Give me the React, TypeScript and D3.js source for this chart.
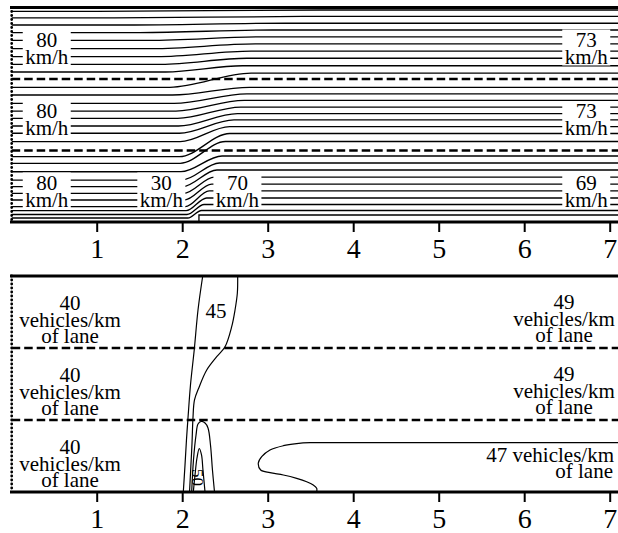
import React from "react";
import * as d3 from "d3";

// ---------- data ----------
const tickValues = [1, 2, 3, 4, 5, 6, 7];
const laneDividers = [1, 2];

// streamlines (top panel): lane units (0 = bottom edge, 3 = top edge), x in km
const streamLeft = [
  2.945, 2.855, 2.755, 2.65, 2.54, 2.425, 2.312, 2.205, 2.098,
  1.884, 1.776, 1.66, 1.552, 1.45, 1.343, 1.241, 1.123,
  0.913, 0.821, 0.703, 0.587, 0.494, 0.401, 0.308, 0.214, 0.158, 0.105, 0.056,
];
const streamRight = [
  2.965, 2.875, 2.78, 2.685, 2.59, 2.49, 2.39, 2.29, 2.185, 2.082,
  1.884, 1.793, 1.702, 1.608, 1.517, 1.427, 1.333, 1.238, 1.126,
  0.923, 0.825, 0.727, 0.629, 0.531, 0.434, 0.336, 0.245, 0.161,
];
const streamStart = [
  1.0, 1.2, 1.35, 1.5, 1.6, 1.65, 1.7, 1.75, 1.8,
  1.85, 1.88, 1.9, 1.92, 1.94, 1.95, 1.96, 1.97,
  1.96, 1.97, 1.98, 1.99, 2.0, 2.01, 2.02, 2.03, 2.04, 2.05, 2.06,
];
const streamEnd = [
  3.6, 3.4, 3.2, 3.05, 2.95, 2.85, 2.8, 2.75, 2.7,
  2.8, 2.78, 2.75, 2.72, 2.68, 2.64, 2.6, 2.55,
  2.55, 2.5, 2.46, 2.43, 2.4, 2.37, 2.34, 2.31, 2.28, 2.25, 2.22,
];
const obstacleLine: [number, number][] = [[2.19, 0], [2.19, 0.098], [7.2, 0.098]];

// speed labels (top panel)
const speedLabels = [
  { km: 0.41, top: "80", lane: 3 },
  { km: 0.41, top: "80", lane: 2 },
  { km: 0.41, top: "80", lane: 1 },
  { km: 1.75, top: "30", lane: 1 },
  { km: 2.64, top: "70", lane: 1 },
  { km: 6.72, top: "73", lane: 3 },
  { km: 6.72, top: "73", lane: 2 },
  { km: 6.72, top: "69", lane: 1 },
];

// density contours (bottom panel)
const contour45Left: [number, number][] = [
  [2.234, 3], [2.179, 2.528], [2.136, 1.986], [2.091, 1.486], [2.062, 1.028],
  [2.044, 0.722], [2.027, 0.375], [2.007, 0],
];
const contour45Right: [number, number][] = [
  [2.643, 3], [2.639, 2.76], [2.612, 2.528], [2.573, 2.296], [2.495, 2.018],
  [2.398, 1.879], [2.281, 1.694], [2.194, 1.463], [2.138, 1.278], [2.12, 1.024],
  [2.109, 0.681], [2.095, 0.351], [2.08, 0],
];
const contour50: [number, number][] = [
  [2.105, 0], [2.126, 0.444], [2.156, 0.792], [2.179, 0.944], [2.214, 0.979],
  [2.261, 0.958], [2.296, 0.889], [2.325, 0.653], [2.348, 0.306], [2.372, 0],
];
const contour55: [number, number][] = [
  [2.124, 0], [2.144, 0.236], [2.167, 0.472], [2.194, 0.604], [2.22, 0.514],
  [2.237, 0.306], [2.261, 0],
];
const contour47: [number, number][] = [
  [7.2, 0.685], [3.957, 0.685], [3.489, 0.685], [3.333, 0.672], [3.177, 0.643],
  [3.021, 0.583], [2.924, 0.49], [2.884, 0.399], [2.912, 0.306], [3.021, 0.268],
  [3.177, 0.236], [3.333, 0.19], [3.45, 0.143], [3.527, 0.097], [3.567, 0.051], [3.567, 0],
];

// ---------- component ----------
const W = 618;
const H = 533;
const FONT = '"Liberation Serif", "DejaVu Serif", serif';

export default function App() {
  const x = d3.scaleLinear().domain([0, 7]).range([11.7, 610.2]);
  const yTop = d3.scaleLinear().domain([0, 3]).range([222, 7.5]);
  const yBot = d3.scaleLinear().domain([0, 3]).range([492, 276]);
  const xMax = x.invert(W);

  const streamGen = d3
    .line<[number, number]>()
    .x((d) => x(d[0]))
    .y((d) => yTop(d[1]))
    .curve(d3.curveMonotoneX);
  const linGen = d3
    .line<[number, number]>()
    .x((d) => x(Math.min(d[0], xMax)))
    .y((d) => yTop(d[1]));
  const contGen = d3
    .line<[number, number]>()
    .x((d) => x(Math.min(d[0], xMax)))
    .y((d) => yBot(d[1]))
    .curve(d3.curveCatmullRom.alpha(0.5));

  const streams = streamLeft.map((yl, i) => {
    const pts: [number, number][] = [
      [0, yl],
      [streamStart[i], yl],
      [streamEnd[i], streamRight[i]],
      [xMax, streamRight[i]],
    ];
    return streamGen(pts) as string;
  });

  const topLabelY = (lane: number) => yTop(lane) + 39;
  const bottomLeftLabels = [3, 2, 1];
  const txt = { fontFamily: FONT } as React.CSSProperties;

  return (
    <svg
      width={W}
      height={H}
      style={{ position: "absolute", left: 0, top: 0, background: "#fff", fontFamily: FONT }}
    >
      <rect x={0} y={0} width={W} height={H} fill="#fff" />
      {/* ===== TOP PANEL ===== */}
      <g fill="none" stroke="#000" strokeWidth={1.3}>
        {streams.map((d, i) => (
          <path key={i} d={d} />
        ))}
        <path d={linGen(obstacleLine) as string} />
      </g>
      {laneDividers.map((l) => (
        <line
          key={"td" + l}
          x1={x(0)}
          x2={W}
          y1={yTop(l)}
          y2={yTop(l)}
          stroke="#000"
          strokeWidth={2.6}
          strokeDasharray="8.5,4"
        />
      ))}
      {speedLabels.map((s, i) => {
        const cx = x(s.km);
        const b1 = topLabelY(s.lane);
        const b2 = b1 + 17;
        return (
          <g key={"sl" + i}>
            <rect x={cx - 24} y={b1 - 17} width={48} height={36} fill="#fff" />
            <text x={cx} y={b1} textAnchor="middle" fontSize={21} style={txt}>
              {s.top}
            </text>
            <text x={cx} y={b2} textAnchor="middle" fontSize={21} style={txt}>
              km/h
            </text>
          </g>
        );
      })}
      <line x1={10} x2={W} y1={yTop(3)} y2={yTop(3)} stroke="#000" strokeWidth={2.8} />
      <line x1={10} x2={W} y1={yTop(0)} y2={yTop(0)} stroke="#000" strokeWidth={3} />
      <line
        x1={x(0)}
        x2={x(0)}
        y1={yTop(3)}
        y2={yTop(0)}
        stroke="#000"
        strokeWidth={2.8}
        strokeLinecap="round"
        strokeDasharray="0,4"
      />
      {tickValues.map((t) => (
        <g key={"tt" + t}>
          <line x1={x(t)} x2={x(t)} y1={yTop(0)} y2={yTop(0) + 10} stroke="#000" strokeWidth={2} />
          <text x={x(t)} y={258} textAnchor="middle" fontSize={28} style={txt}>
            {t}
          </text>
        </g>
      ))}

      {/* ===== BOTTOM PANEL ===== */}
      <g fill="none" stroke="#000" strokeWidth={1.2}>
        <path d={contGen(contour45Left) as string} />
        <path d={contGen(contour45Right) as string} />
        <path d={contGen(contour50) as string} />
        <path d={contGen(contour55) as string} />
        <path d={contGen(contour47) as string} />
      </g>
      <text x={x(2.39)} y={yBot(2.42)} textAnchor="middle" fontSize={21} style={txt}>
        45
      </text>
      <text
        x={0}
        y={0}
        textAnchor="middle"
        fontSize={17}
        style={txt}
        transform={`translate(${x(2.175)},${yBot(0.2)}) rotate(90)`}
        dy={6}
      >
        50
      </text>
      {laneDividers.map((l) => (
        <line
          key={"bd" + l}
          x1={x(0)}
          x2={W}
          y1={yBot(l)}
          y2={yBot(l)}
          stroke="#000"
          strokeWidth={2.6}
          strokeDasharray="8.5,4"
        />
      ))}
      {bottomLeftLabels.map((lane) => {
        const b1 = yBot(lane) + 34;
        return (
          <g key={"bl" + lane} fontSize={21} textAnchor="middle" style={txt}>
            <text x={70} y={b1}>40</text>
            <text x={70} y={b1 + 16.5}>vehicles/km</text>
            <text x={70} y={b1 + 33}>of lane</text>
          </g>
        );
      })}
      {[3, 2].map((lane) => {
        const b1 = yBot(lane) + 33;
        return (
          <g key={"br" + lane} fontSize={21} textAnchor="middle" style={txt}>
            <text x={564} y={b1}>49</text>
            <text x={564} y={b1 + 16.5}>vehicles/km</text>
            <text x={564} y={b1 + 33}>of lane</text>
          </g>
        );
      })}
      <g fontSize={21} textAnchor="end" style={txt}>
        <text x={614} y={yBot(1) + 41.5}>47 vehicles/km</text>
        <text x={613} y={yBot(1) + 58}>of lane</text>
      </g>
      <line x1={10} x2={W} y1={yBot(3)} y2={yBot(3)} stroke="#000" strokeWidth={2.8} />
      <line x1={10} x2={W} y1={yBot(0)} y2={yBot(0)} stroke="#000" strokeWidth={3} />
      <line
        x1={x(0)}
        x2={x(0)}
        y1={yBot(3)}
        y2={yBot(0)}
        stroke="#000"
        strokeWidth={2.8}
        strokeLinecap="round"
        strokeDasharray="0,4"
      />
      {tickValues.map((t) => (
        <g key={"bt" + t}>
          <line x1={x(t)} x2={x(t)} y1={yBot(0)} y2={yBot(0) + 10} stroke="#000" strokeWidth={2} />
          <text x={x(t)} y={528} textAnchor="middle" fontSize={28} style={txt}>
            {t}
          </text>
        </g>
      ))}
    </svg>
  );
}
